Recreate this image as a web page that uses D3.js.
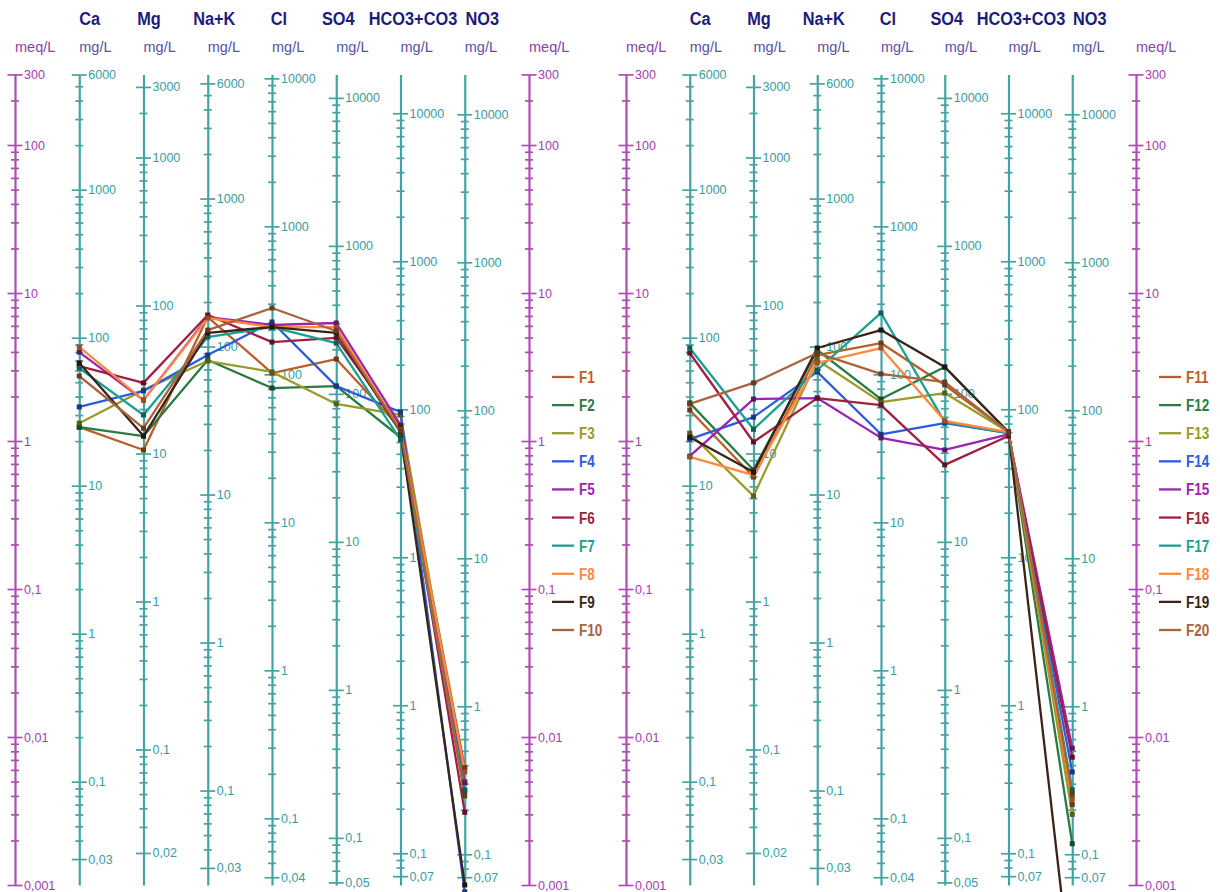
<!DOCTYPE html>
<html>
<head>
<meta charset="utf-8">
<script src="https://cdn.jsdelivr.net/npm/d3@7"></script>
<style>
  html, body { margin: 0; padding: 0; background: #ffffff; }
  svg { display: block; font-family: "Liberation Sans", Arial, sans-serif; }
</style>
</head>
<body>
<svg id="chart" width="1220" height="892"></svg>
<script>
// Ions shown on the Schoeller diagram, with their equivalent weights (mg per meq)
const ions = ["Ca", "Mg", "Na+K", "Cl", "SO4", "HCO3+CO3", "NO3"];
const eqWeights = [20.04, 12.15, 23.0, 35.45, 48.03, 61.02, 62.0];

// Range of the common meq/L scale
const meqRange = [0.001, 300];

// Sample names and line colours
const namesLeft = ["F1", "F2", "F3", "F4", "F5", "F6", "F7", "F8", "F9", "F10"];
const namesRight = ["F11", "F12", "F13", "F14", "F15", "F16", "F17", "F18", "F19", "F20"];
const seriesColors = ["#bb5e2a", "#2a7a44", "#9a9a2a", "#2d5be0", "#9b24b0",
                      "#a02040", "#1aa090", "#ff8a3d", "#3a2418", "#a8643e"];

// Concentrations in meq/L, one row per sample: Ca, Mg, Na+K, Cl, SO4, HCO3+CO3, NO3
const valuesLeft = [
  [1.24, 0.87, 6.88, 2.88, 3.58, 1.22, 0.0062],   // F1
  [1.24, 1.08, 3.53, 2.28, 2.35, 1.06, 0.0043],   // F2
  [1.32, 2.21, 3.47, 2.93, 1.78, 1.50, 0.0050],   // F3
  [1.70, 2.18, 3.81, 6.37, 2.35, 1.57, 0.0009],   // F4
  [3.99, 1.89, 6.88, 6.08, 6.27, 1.28, 0.0049],   // F5
  [3.21, 2.47, 7.10, 4.66, 4.97, 1.24, 0.0031],   // F6
  [3.11, 1.50, 5.04, 5.89, 4.59, 1.02, 0.0044],   // F7
  [4.32, 1.89, 6.78, 5.89, 5.89, 1.19, 0.0058],   // F8
  [3.37, 1.08, 5.37, 5.89, 5.37, 1.15, 0.0010],   // F9
  [2.75, 1.22, 5.62, 7.92, 5.54, 1.17, 0.0040]    // F10
];
const valuesRight = [
  [1.62, 0.571, 3.81, 4.59, 2.39, 1.15, 0.0035],  // F11
  [1.81, 0.637, 4.12, 1.92, 3.16, 1.15, 0.0019],  // F12
  [1.13, 0.425, 3.53, 1.83, 2.11, 1.15, 0.0030],  // F13
  [1.03, 1.45, 2.93, 1.11, 1.32, 1.13, 0.0058],   // F14
  [0.79, 1.92, 1.95, 1.05, 0.87, 1.11, 0.0084],   // F15
  [3.93, 0.985, 1.95, 1.75, 0.69, 1.08, 0.0073],  // F16
  [4.25, 1.20, 3.02, 7.33, 1.34, 1.13, 0.0044],   // F17
  [0.78, 0.589, 3.37, 4.25, 1.37, 1.15, 0.0038],  // F18
  [1.06, 0.617, 4.25, 5.62, 3.16, 1.15, 0.0002],  // F19
  [1.78, 2.47, 3.93, 2.84, 2.50, 1.15, 0.0041]    // F20
];

// ---------------------------------------------------------------------------
const svg = d3.select("#chart");

const AXIS_TEAL = "#46a3a3";
const LABEL_TEAL = "#3a9ca2";
const AXIS_PURPLE = "#b04cb6";
const LABEL_PURPLE = "#a83ab0";
const HEADER_COLOR = "#1c1c7c";
const UNIT_MEQ = "#8a44aa";
const UNIT_MG = "#5a50a6";

const yMeq = d3.scaleLog().domain(meqRange).range([885, 74.4]);

const panels = [
  { x0: 15,  x1: 529,  names: namesLeft,  values: valuesLeft },
  { x0: 626, x1: 1136, names: namesRight, values: valuesRight }
];

// Number formatting with decimal comma
function fmt(v) {
  return String(+v.toPrecision(1)).replace(".", ",");
}
function floor1(v) {
  const e = Math.floor(Math.log10(v));
  return Math.floor(v / Math.pow(10, e) + 1e-9) * Math.pow(10, e);
}
function ceil1(v) {
  const e = Math.floor(Math.log10(v));
  return +(Math.ceil(v / Math.pow(10, e) - 1e-9) * Math.pow(10, e)).toPrecision(2);
}
function close(a, b) { return Math.abs(Math.log10(a) - Math.log10(b)) < 1e-6; }

// k * 10^n tick values inside [lo, hi]
function logTickValues(lo, hi) {
  const out = [];
  for (let e = Math.floor(Math.log10(lo)); e <= Math.ceil(Math.log10(hi)); e++) {
    for (let k = 1; k <= 9; k++) {
      const v = +(k * Math.pow(10, e)).toPrecision(2);
      if (v >= lo * 0.99999 && v <= hi * 1.00001) out.push(v);
    }
  }
  return out;
}

// Vertical log axis with cross ticks; decades and range ends get long ticks and labels
function drawAxis(parent, x, scale, stroke, textColor) {
  const [lo, hi] = scale.domain();
  const top = floor1(hi), bottom = ceil1(lo);
  const isMajor = v => Math.abs(Math.log10(v) - Math.round(Math.log10(v))) < 1e-6
                       || close(v, top) || close(v, bottom);
  const axis = d3.axisRight(scale)
    .tickValues(logTickValues(lo, hi))
    .tickSize(0)
    .tickSizeOuter(0)
    .tickPadding(9)
    .tickFormat(v => isMajor(v) ? fmt(v) : "");
  const g = parent.append("g")
    .attr("transform", `translate(${x},0)`)
    .call(axis)
    .attr("font-family", null)
    .attr("font-size", null);
  g.select(".domain").attr("stroke", stroke).attr("stroke-width", 2.2);
  g.selectAll(".tick line")
    .attr("x1", d => isMajor(d) ? -7.5 : -4)
    .attr("x2", d => isMajor(d) ? 7.5 : 4)
    .attr("stroke", stroke)
    .attr("stroke-width", 1.7);
  g.selectAll(".tick text")
    .attr("fill", textColor)
    .attr("font-size", 12.5)
    .attr("font-family", "'Liberation Sans', Arial, sans-serif");
}

// Header offsets of the ion names relative to their axis
const headerOffsets = [10.5, 5.5, 6.5, 7, 2, 12.5, 17.5];

panels.forEach(p => {
  const slots = ["meqL", ...ions, "meqR"];
  const x = d3.scalePoint().domain(slots).range([p.x0, p.x1]);
  const g = svg.append("g");

  // meq/L axes on both sides
  ["meqL", "meqR"].forEach(s => {
    drawAxis(g, x(s), yMeq, AXIS_PURPLE, LABEL_PURPLE);
    g.append("text")
      .attr("x", x(s)).attr("y", 52)
      .attr("font-size", 14.5).attr("fill", UNIT_MEQ)
      .text("meq/L");
  });

  // One mg/L axis per ion, aligned on the meq/L scale
  ions.forEach((ion, i) => {
    const ew = eqWeights[i];
    const mgScale = d3.scaleLog()
      .domain([meqRange[0] * ew, meqRange[1] * ew])
      .range(yMeq.range());
    drawAxis(g, x(ion), mgScale, AXIS_TEAL, LABEL_TEAL);
    g.append("text")
      .attr("x", x(ion)).attr("y", 52)
      .attr("font-size", 14.5).attr("fill", UNIT_MG)
      .text("mg/L");
    g.append("text")
      .attr("transform", `translate(${x(ion) + headerOffsets[i]},25) scale(0.86,1)`)
      .attr("text-anchor", "middle")
      .attr("font-size", 19).attr("font-weight", "bold")
      .attr("fill", HEADER_COLOR)
      .text(ion);
  });

  // Sample lines
  const line = d3.line()
    .x((d, i) => x(ions[i]))
    .y(d => yMeq(d));

  const series = g.append("g");
  p.values.forEach((vals, s) => {
    const c = seriesColors[s];
    series.append("path")
      .datum(vals)
      .attr("d", line)
      .attr("fill", "none")
      .attr("stroke", c)
      .attr("stroke-width", 2.3)
      .attr("stroke-linejoin", "round");
  });
  p.values.forEach((vals, s) => {
    const c = d3.color(seriesColors[s]).darker(1.5);
    series.selectAll(null)
      .data(vals)
      .join("rect")
      .attr("x", (d, i) => x(ions[i]) - 2.5)
      .attr("y", d => yMeq(d) - 2.5)
      .attr("width", 5).attr("height", 5)
      .attr("fill", c);
  });

  // Legend
  const legendY = d3.scalePoint().domain(p.names).range([377, 630]);
  const lg = g.append("g");
  p.names.forEach((n, s) => {
    lg.append("line")
      .attr("x1", p.x1 + 23).attr("x2", p.x1 + 45)
      .attr("y1", legendY(n)).attr("y2", legendY(n))
      .attr("stroke", seriesColors[s]).attr("stroke-width", 2.3);
    lg.append("text")
      .attr("transform", `translate(${p.x1 + 50},${legendY(n) + 6}) scale(0.82,1)`)
      .attr("font-size", 16.5).attr("font-weight", "bold")
      .attr("fill", seriesColors[s])
      .text(n);
  });
});
</script>
</body>
</html>
